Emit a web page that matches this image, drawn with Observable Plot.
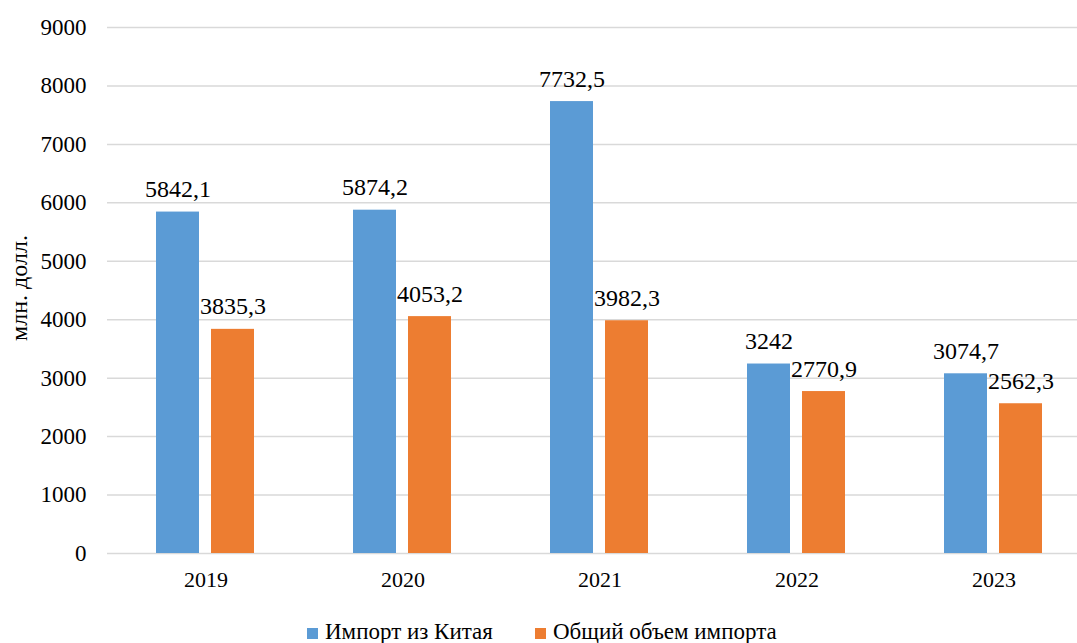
<!DOCTYPE html>
<html><head><meta charset="utf-8">
<script src="https://cdn.jsdelivr.net/npm/d3@7"></script>
<script src="https://cdn.jsdelivr.net/npm/@observablehq/plot@0.6"></script>
<style>
html,body{margin:0;padding:0;background:#fff;overflow:hidden;width:1077px;height:643px;}
#chart{position:absolute;left:0;top:0;width:1092px;}
#chart svg{max-width:none !important;}
#chart svg text{font-family:'Liberation Serif', serif !important;}
#legend{position:absolute;left:307px;top:621px;display:flex;gap:42px;font-family:'Liberation Serif',serif;font-size:23px;line-height:22px;color:#000;white-space:nowrap;}
#legend span.sw{display:inline-block;width:11px;height:11px;margin-right:7px;vertical-align:0px;}
</style></head><body>
<div id="chart"></div>
<div id="legend"></div>
<script>
const years = ["2019","2020","2021","2022","2023"];
const seriesNames = ["Импорт из Китая","Общий объем импорта"];
const chinaImport = [5842.1, 5874.2, 7732.5, 3242, 3074.7];
const totalImport = [3835.3, 4053.2, 3982.3, 2770.9, 2562.3];
const yTicks = [0,1000,2000,3000,4000,5000,6000,7000,8000,9000];
const colors = ["#5b9bd5", "#ed7d31"];
const FONT = "'Liberation Serif', serif";

const data = [];
years.forEach((y, i) => {
  data.push({year: y, series: seriesNames[0], value: chinaImport[i]});
  data.push({year: y, series: seriesNames[1], value: totalImport[i]});
});
const fmt = v => String(v).replace(".", ",");

const chart = Plot.plot({
  width: 1092, height: 600,
  marginLeft: 107, marginRight: 0, marginTop: 27, marginBottom: 47,
  style: {fontFamily: FONT, fontSize: "22px", color: "#000", background: "#fff", maxWidth: "none"},
  fx: {domain: years, padding: 0, label: null, axis: null},
  x: {domain: seriesNames, paddingInner: 0.214, paddingOuter: 0.866, axis: null},
  y: {domain: [0, 9000], ticks: yTicks, label: null, axis: null},
  color: {domain: seriesNames, range: colors},
  marks: [
    Plot.ruleY(yTicks, {stroke: "#d9d9d9", strokeWidth: 1.5}),
    Plot.barY(data, {fx: "year", x: "series", y: "value", fill: "series"}),
    Plot.text(data, {fx: "year", x: "series", y: "value", text: d => fmt(d.value), lineAnchor: "bottom", dy: -15, fontSize: 24, fill: "#000", fontFamily: FONT}),
    Plot.axisFx({anchor: "bottom", tickSize: 0, tickPadding: 18, fontSize: 22, label: null, fontFamily: FONT}),
    Plot.axisY({ticks: yTicks, tickFormat: d => String(d), tickSize: 0, tickPadding: 21, fontSize: 23, label: null, facetAnchor: "left", fontFamily: FONT})
  ]
});
chart.style.maxWidth = "none";
document.getElementById("chart").appendChild(chart);

const svg = d3.select(chart);
svg.append("text")
  .attr("transform", "translate(21,288) rotate(-90)")
  .attr("text-anchor", "middle")
  .attr("dominant-baseline", "middle")
  .attr("font-size", 24)
  .attr("fill", "#000")
  .text("млн. долл.");

const leg = document.getElementById("legend");
seriesNames.forEach((s, i) => {
  const it = document.createElement("span");
  it.className = "item";
  it.innerHTML = `<span class="sw" style="background:${colors[i]}"></span>${s}`;
  leg.appendChild(it);
});
</script>
</body></html>
